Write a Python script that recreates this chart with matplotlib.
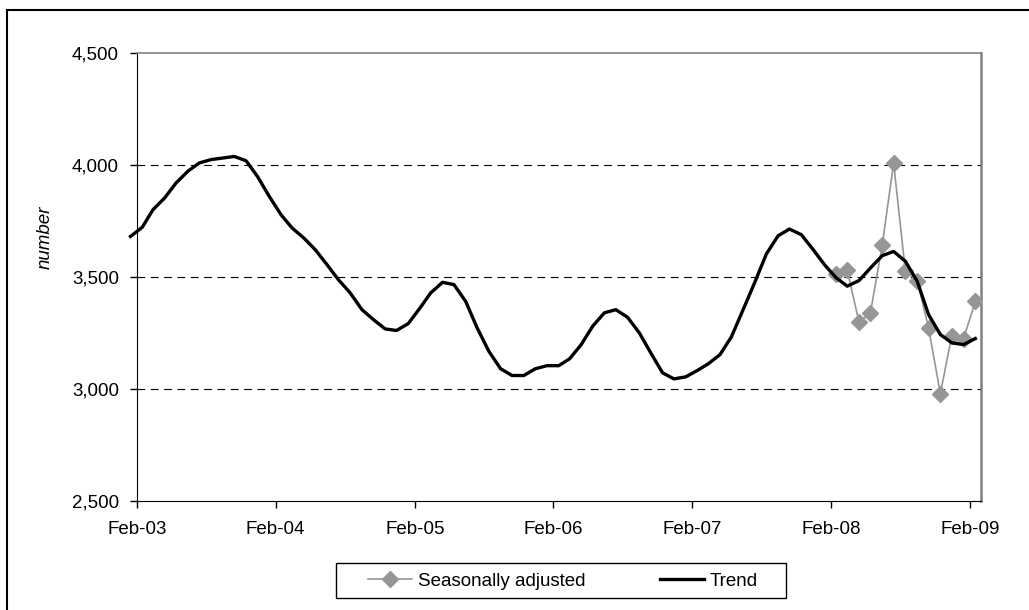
import datetime as dt
import matplotlib
matplotlib.use("Agg")
import matplotlib.pyplot as plt
import matplotlib.dates as mdates
import matplotlib.patches as mpatches

plt.rcParams['font.family'] = ['Liberation Sans', 'DejaVu Sans']

# monthly trend, Jan-03 .. Feb-09 (plotted mid-month)
trend = [3679, 3720, 3798, 3851, 3918, 3970, 4007, 4022, 4029, 4036, 4017, 3947,
         3858, 3776, 3717, 3672, 3620, 3553, 3486, 3427, 3352, 3308, 3266, 3259,
         3290, 3360, 3427, 3474, 3464, 3389, 3271, 3166, 3088, 3058, 3058, 3088,
         3102, 3102, 3132, 3196, 3278, 3338, 3352, 3318, 3248, 3159, 3070, 3043,
         3052, 3081, 3110, 3151, 3230, 3352, 3471, 3600, 3682, 3712, 3687, 3623,
         3553, 3494, 3457, 3482, 3538, 3593, 3612, 3568, 3479, 3330, 3241, 3204,
         3196, 3223]
trend_start = (2003, 1)

# seasonally adjusted, Feb-08 .. Feb-09
sa = [3513, 3528, 3296, 3338, 3639, 4007, 3523, 3482, 3271, 2977, 3236, 3222, 3389]
sa_start = (2008, 2)

y_ticks = [2500, 3000, 3500, 4000, 4500]
x_tick_years = [2003, 2004, 2005, 2006, 2007, 2008, 2009]

FS = 13.5


def month_dates(start, n):
    y, m = start
    out = []
    for _ in range(n):
        out.append(dt.date(y, m, 15))
        m += 1
        if m > 12:
            m = 1
            y += 1
    return out


trend_x = month_dates(trend_start, len(trend))
sa_x = month_dates(sa_start, len(sa))

fig = plt.figure(figsize=(10.29, 6.10), dpi=100)
ax = fig.add_axes([0.1331, 0.1795, 0.8199, 0.7344])

for v in y_ticks[1:-1]:
    ax.axhline(v, color='black', lw=0.8, dashes=(7, 5), zorder=1)

ax.plot(sa_x, sa, color='#969696', lw=1.2, marker='D', markersize=8,
        markeredgecolor='#969696', markerfacecolor='#969696', zorder=3,
        label='Seasonally adjusted')
ax.plot(trend_x, trend, color='black', lw=2.4, zorder=4, clip_on=False,
        label='Trend')

ax.set_ylim(2500, 4500)
ax.set_yticks(y_ticks)
ax.set_yticklabels([f'{v:,}' for v in y_ticks])
ax.set_xlim(dt.date(2003, 2, 1), dt.date(2009, 3, 1))
ax.set_xticks([dt.date(y, 2, 1) for y in x_tick_years])
ax.xaxis.set_major_formatter(mdates.DateFormatter('%b-%y'))

ax.tick_params(axis='both', direction='out', length=5, width=1, color='black',
               labelsize=FS, pad=8)
ax.tick_params(axis='x', pad=10)
ax.spines['left'].set_color('black')
ax.spines['bottom'].set_color('black')
ax.spines['top'].set_color('#808080')
ax.spines['right'].set_color('#808080')
ax.spines['top'].set_linewidth(1.2)
ax.spines['right'].set_linewidth(1.8)

fig.text(45 / 1029, 1 - 237 / 610, 'number', rotation=90, style='italic',
         fontsize=FS, ha='center', va='center')

leg = fig.legend(loc='center', bbox_to_anchor=(563 / 1029, 1 - 581 / 610), ncol=2,
                 fontsize=FS, frameon=False, handlelength=2.35,
                 handletextpad=0.3, columnspacing=4.0)

# legend box drawn separately for its wide side margins
fig.patches.append(mpatches.Rectangle((336 / 1029, 1 - 598 / 610), 450 / 1029, 35 / 610,
                                      transform=fig.transFigure, fill=False,
                                      edgecolor='black', lw=1.0))

# outer chart border
fig.patches.append(mpatches.Rectangle((7 / 1029, -0.02), 1.05, 1 - 10 / 610 + 0.02,
                                      transform=fig.transFigure, fill=False,
                                      edgecolor='black', lw=1.5))

fig.savefig('out.png', dpi=100)
